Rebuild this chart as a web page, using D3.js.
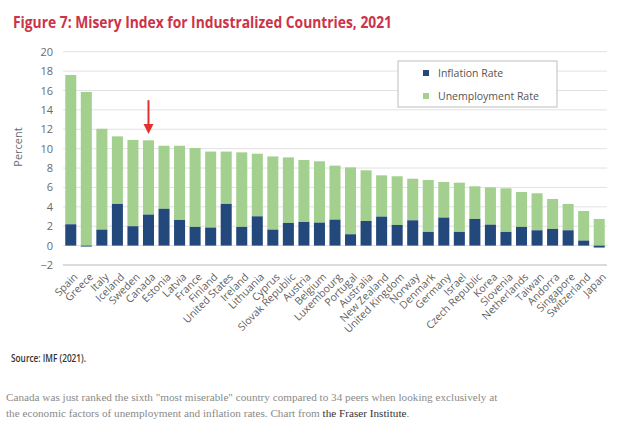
<!DOCTYPE html>
<html>
<head>
<meta charset="utf-8">
<script src="https://cdn.jsdelivr.net/npm/d3@7"></script>
<style>
  body { margin: 0; background: #fff; }
  svg { display: block; }
</style>
</head>
<body>
<script>
'use strict';

// countries, ordered by misery index (unemployment + inflation)
const countries = ["Spain", "Greece", "Italy", "Iceland", "Sweden", "Canada", "Estonia", "Latvia",
  "France", "Finland", "United States", "Ireland", "Lithuania", "Cyprus", "Slovak Republic",
  "Austria", "Belgium", "Luxembourg", "Portugal", "Australia", "New Zealand", "United Kingdom",
  "Norway", "Denmark", "Germany", "Israel", "Czech Republic", "Korea", "Slovenia", "Netherlands",
  "Taiwan", "Andorra", "Singapore", "Switzerland", "Japan"];

// inflation rate, %
const inflation = [2.2, -0.1, 1.65, 4.3, 2.0, 3.2, 3.8, 2.65, 1.93, 1.86, 4.3, 1.93, 3.02, 1.65, 2.34,
  2.44, 2.37, 2.68, 1.17, 2.54, 2.99, 2.13, 2.61, 1.41, 2.89, 1.41, 2.75, 2.16, 1.41, 1.93,
  1.58, 1.72, 1.58, 0.52, -0.2];

// unemployment rate, %
const unemployment = [15.4, 15.85, 10.4, 6.97, 8.9, 7.66, 6.5, 7.65, 8.14, 7.84, 5.4, 7.69, 6.46, 7.55, 6.76,
  6.39, 6.33, 5.57, 6.9, 5.23, 4.26, 5.02, 4.29, 5.36, 3.67, 5.08, 3.37, 3.85, 4.5, 3.6,
  3.82, 3.09, 2.72, 3.05, 2.75];

const yTicks = [-2, 0, 2, 4, 6, 8, 10, 12, 14, 16, 18, 20];

const width = 632, height = 434;
const plot = { left: 63, right: 607, top: 51.7, bottom: 265 };

const svg = d3.select('body').append('svg')
  .attr('width', width)
  .attr('height', height);

// scales
const x = d3.scaleBand()
  .domain(countries)
  .range([plot.left, plot.right])
  .paddingInner(0.29)
  .paddingOuter(0.145);

const y = d3.scaleLinear()
  .domain([-2, 20])
  .range([plot.bottom, plot.top]);

// gridlines
svg.append('g')
  .selectAll('line')
  .data(yTicks)
  .join('line')
  .attr('x1', plot.left)
  .attr('x2', plot.right)
  .attr('y1', d => y(d))
  .attr('y2', d => y(d))
  .attr('stroke', d => d === -2 ? '#cfcfcf' : '#e2e2e2')
  .attr('stroke-width', d => d === -2 ? 1.4 : 1);

// y axis labels
const yAxis = d3.axisLeft(y).tickValues(yTicks).tickSize(0).tickPadding(0);
svg.append('g')
  .attr('transform', 'translate(53,0)')
  .call(yAxis)
  .call(g => g.select('.domain').remove())
  .call(g => g.selectAll('text')
    .attr('fill', '#6a6a6a')
    .style('font-family', 'Open Sans, sans-serif')
    .style('font-size', '11px'));

svg.append('text')
  .attr('transform', 'translate(22,147)rotate(-90)')
  .attr('text-anchor', 'middle')
  .attr('fill', '#6a6a6a')
  .style('font-family', 'Open Sans, sans-serif')
  .style('font-size', '11px')
  .text('Percent');

// unemployment sits on top of inflation (or on zero when inflation is negative)
const rows = countries.map((c, i) => ({
  country: c,
  infl: inflation[i],
  unemp: unemployment[i],
  base: Math.max(0, inflation[i])
}));

svg.append('g')
  .selectAll('rect')
  .data(rows)
  .join('rect')
  .attr('x', d => x(d.country))
  .attr('width', x.bandwidth())
  .attr('y', d => y(d.base + d.unemp))
  .attr('height', d => y(d.base) - y(d.base + d.unemp))
  .attr('fill', '#a4d08f');

svg.append('g')
  .selectAll('rect')
  .data(rows)
  .join('rect')
  .attr('x', d => x(d.country))
  .attr('width', x.bandwidth())
  .attr('y', d => y(Math.max(0, d.infl)))
  .attr('height', d => Math.abs(y(0) - y(d.infl)))
  .attr('fill', '#23487c');

// x axis labels, rotated
const xAxis = d3.axisBottom(x).tickSize(0).tickPadding(0);
svg.append('g')
  .attr('transform', 'translate(0,' + (plot.bottom + 6) + ')')
  .call(xAxis)
  .call(g => g.select('.domain').remove())
  .call(g => g.selectAll('text')
    .attr('text-anchor', 'end')
    .attr('dy', '0.35em')
    .attr('transform', 'translate(5,4)rotate(-45)')
    .attr('fill', '#5f5f5f')
    .style('font-family', 'Open Sans, sans-serif')
    .style('font-size', '10.5px'));

// red arrow pointing at Canada
const ax = x('Canada') + x.bandwidth() / 2;
const arrowTop = y(15);
const arrowTip = y(11.5);
svg.append('line')
  .attr('x1', ax).attr('x2', ax)
  .attr('y1', arrowTop).attr('y2', arrowTip - 8)
  .attr('stroke', '#e0312f')
  .attr('stroke-width', 2);
svg.append('path')
  .attr('d', `M${ax - 5},${arrowTip - 10}L${ax + 5},${arrowTip - 10}L${ax},${arrowTip}Z`)
  .attr('fill', '#e0312f');

// legend
const legend = svg.append('g').attr('transform', 'translate(398,61)');
legend.append('rect')
  .attr('width', 159)
  .attr('height', 46)
  .attr('fill', '#fff')
  .attr('stroke', '#bdbdbd');
const legendItems = [
  { label: 'Inflation Rate', color: '#23487c' },
  { label: 'Unemployment Rate', color: '#a4d08f' }
];
legendItems.forEach((item, i) => {
  const ly = 12 + i * 23;
  legend.append('rect')
    .attr('x', 25).attr('y', ly - 3)
    .attr('width', 6).attr('height', 6)
    .attr('fill', item.color);
  legend.append('text')
    .attr('x', 40).attr('y', ly)
    .attr('dy', '0.35em')
    .attr('fill', '#555')
    .style('font-family', 'Open Sans, sans-serif')
    .style('font-size', '10.5px')
    .text(item.label);
});

// title
svg.append('text')
  .attr('x', 13)
  .attr('y', 27.5)
  .attr('fill', '#cc3348')
  .attr('textLength', 379)
  .attr('lengthAdjust', 'spacingAndGlyphs')
  .style('font-family', 'Open Sans, sans-serif')
  .style('font-weight', 'bold')
  .style('font-size', '15.5px')
  .text('Figure 7: Misery Index for Industralized Countries, 2021');

// source
svg.append('text')
  .attr('x', 11)
  .attr('y', 362)
  .attr('fill', '#333')
  .attr('textLength', 75)
  .attr('lengthAdjust', 'spacingAndGlyphs')
  .style('font-family', 'Open Sans, sans-serif')
  .style('font-weight', 600)
  .style('font-size', '10.5px')
  .text('Source: IMF (2021).');

// caption under the chart
const caption = svg.append('g')
  .style('font-family', 'Liberation Serif, serif')
  .style('font-size', '11.2px');
caption.append('text')
  .attr('x', 6).attr('y', 401)
  .attr('fill', '#8a8a8a')
  .text('Canada was just ranked the sixth "most miserable" country compared to 34 peers when looking exclusively at');
const line2 = caption.append('text')
  .attr('x', 6).attr('y', 417)
  .attr('fill', '#8a8a8a');
line2.append('tspan').text('the economic factors of unemployment and inflation rates. Chart from ');
line2.append('tspan').attr('fill', '#333').text('the Fraser Institute');
line2.append('tspan').text('.');
</script>
</body>
</html>
